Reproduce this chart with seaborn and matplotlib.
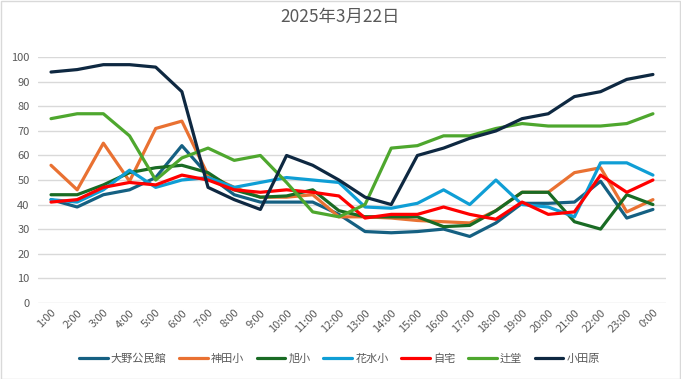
import pandas as pd
import seaborn as sns
import matplotlib.pyplot as plt
from matplotlib.patches import Rectangle

hours = ['1:00', '2:00', '3:00', '4:00', '5:00', '6:00', '7:00', '8:00', '9:00', '10:00', '11:00', '12:00',
         '13:00', '14:00', '15:00', '16:00', '17:00', '18:00', '19:00', '20:00', '21:00', '22:00', '23:00', '0:00']

ono = [42, 39, 44, 46, 51, 64, 52, 44, 41, 41, 41, 36, 29, 28.5, 29, 30, 27, 32.5, 40.5, 40.5, 41, 49.5, 34.5, 38]
kanda = [56, 46, 65, 49.5, 71, 74, 52, 47, 43, 43, 44, 35, 35, 34.5, 33.5, 33, 32.5, 37.5, 45, 45, 53, 55, 37, 42]
asahi = [44, 44, 48, 53, 55, 56, 53, 46, 43, 43.5, 46, 37.5, 35, 35, 35, 31, 31.5, 37.5, 45, 45, 33, 30, 44, 40]
hanamizu = [42, 41, 46, 54, 47, 50, 51, 47, 49, 51, 50, 49, 39, 38.5, 40.5, 46, 40, 50, 40, 39, 35, 57, 57, 52]
jitaku = [41, 42, 47, 49, 48, 52, 50, 46, 45, 46, 45, 43.5, 34.5, 36, 36, 39, 36, 34, 41, 36, 37, 52, 45, 50]
tsujido = [75, 77, 77, 68, 50, 59, 63, 58, 60, 49, 37, 35, 40, 63, 64, 68, 68, 71, 73, 72, 72, 72, 73, 77]
odawara = [94, 95, 97, 97, 96, 86, 47, 42, 38, 60, 56, 50, 43, 40, 60, 63, 67, 70, 75, 77, 84, 86, 91, 93]

names = ['大野公民館', '神田小', '旭小', '花水小', '自宅', '辻堂', '小田原']
colors = ['#156082', '#E97132', '#196B24', '#0F9ED5', '#FF0000', '#4EA72E', '#0E2841']

rows = []
for name, vals in zip(names, [ono, kanda, asahi, hanamizu, jitaku, tsujido, odawara]):
    for i, v in enumerate(vals):
        rows.append({'idx': i, 'value': v, 'place': name})
df = pd.DataFrame(rows)

sns.set_theme(style='white')
plt.rcParams['font.family'] = ['Noto Sans CJK JP', 'DejaVu Sans']

fig = plt.figure(figsize=(6.81, 3.79), dpi=100)
ax = fig.add_axes([0.0557, 0.2013, 0.9223, 0.6475])

sns.lineplot(data=df, x='idx', y='value', hue='place', hue_order=names,
             palette=dict(zip(names, colors)), linewidth=2.3, ax=ax)

ax.set_xlim(-0.5, 23.5)
ax.set_ylim(0, 100)
ax.set_yticks(range(0, 101, 10))
ax.yaxis.grid(True, color='#D9D9D9', linewidth=1)
for s in ax.spines.values():
    s.set_visible(False)
ax.tick_params(axis='both', length=0, labelsize=8, colors='#595959')
ax.tick_params(axis='y', pad=6)
ax.set_xticks(range(len(hours)))
ax.set_xticklabels(hours, rotation=45, ha='right', rotation_mode='anchor')
ax.set_xlabel('')
ax.set_ylabel('')

ax.legend(loc='upper center', bbox_to_anchor=(0.48, -0.165), ncol=7, frameon=False,
          fontsize=8, handlelength=2.6, columnspacing=1.1, handletextpad=0.3,
          labelcolor='#595959')

fig.suptitle('2025年3月22日', x=0.5, y=0.98, fontsize=12.5, color='#595959')
fig.patches.append(Rectangle((0.001, 0.001), 0.997, 0.997, transform=fig.transFigure,
                             fill=False, edgecolor='#D9D9D9', linewidth=1))

fig.savefig('out.png', dpi=100)
